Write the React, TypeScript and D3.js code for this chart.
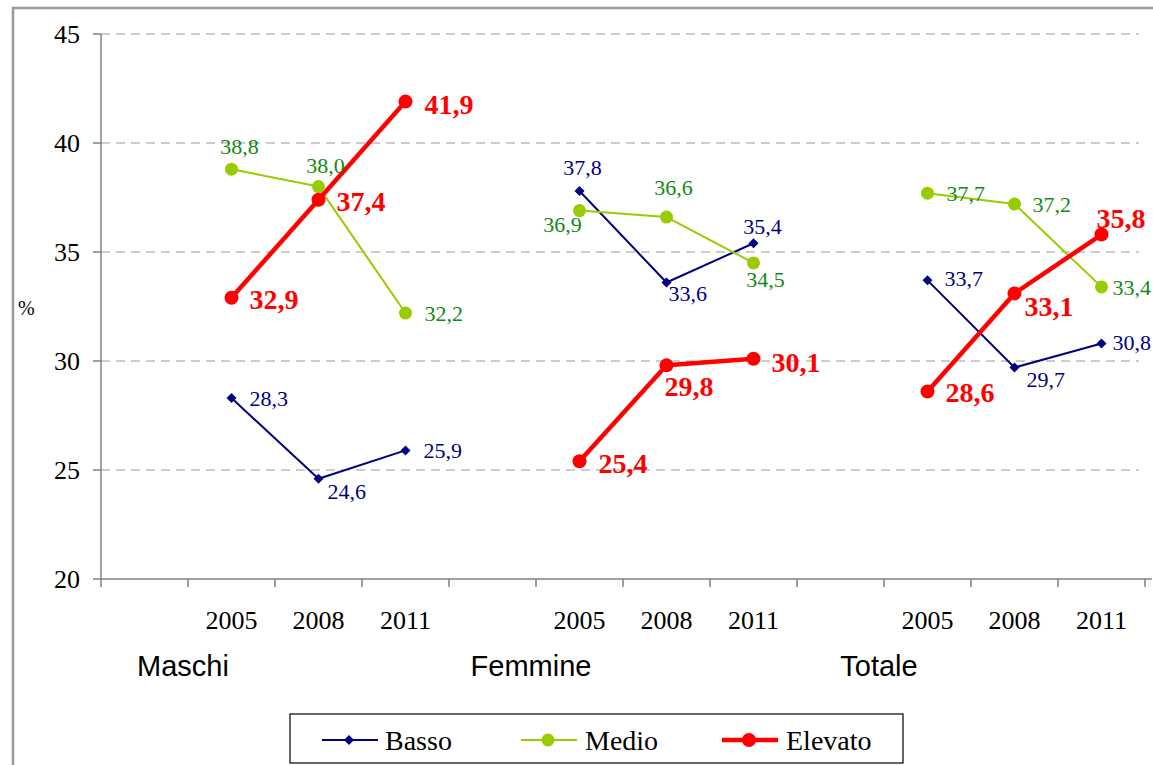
import React from 'react';
import * as d3 from 'd3';

// data
const groups = ['Maschi', 'Femmine', 'Totale'];
const years = ['2005', '2008', '2011'];
const yTicks = [20, 25, 30, 35, 40, 45];

const basso = [28.3, 24.6, 25.9, 37.8, 33.6, 35.4, 33.7, 29.7, 30.8];
const medio = [38.8, 38.0, 32.2, 36.9, 36.6, 34.5, 37.7, 37.2, 33.4];
const elevato = [32.9, 37.4, 41.9, 25.4, 29.8, 30.1, 28.6, 33.1, 35.8];

// label placement [dx, dy, anchor] for each point
const bassoLabelPos = [
  [18, 0, 'start'], [9, 13, 'start'], [18, 0, 'start'],
  [3, -24, 'middle'], [2, 11, 'start'], [9, -17, 'middle'],
  [17, -2, 'start'], [12, 12, 'start'], [11, -1, 'start'],
];
const medioLabelPos = [
  [8, -23, 'middle'], [7, -21, 'middle'], [19, 0, 'start'],
  [-17, 14, 'middle'], [7, -30, 'middle'], [12, 16, 'middle'],
  [19, 0, 'start'], [18, 0, 'start'], [11, 0, 'start'],
];
const elevatoLabelPos = [
  [18, 1, 'start'], [18, 2, 'start'], [19, 3, 'start'],
  [19, 2, 'start'], [-2, 21, 'start'], [18, 3, 'start'],
  [18, 1, 'start'], [10, 13, 'start'], [-5, -16, 'start'],
];

const W = 1153;
const H = 765;
const SERIF = '"Liberation Serif", "Times New Roman", serif';
const SANS = '"Liberation Sans", Arial, sans-serif';

const series = [
  { name: 'Basso', values: basso, pos: bassoLabelPos, line: '#000080', text: '#000080', width: 2, marker: 'diamond', r: 5, bold: false },
  { name: 'Medio', values: medio, pos: medioLabelPos, line: '#99CC00', text: '#118A11', width: 2, marker: 'circle', r: 6.5, bold: false },
  { name: 'Elevato', values: elevato, pos: elevatoLabelPos, line: '#FF0000', text: '#FF0000', width: 4.5, marker: 'circle', r: 7, bold: true },
];

const fmt = (v: number) => v.toFixed(1).replace('.', ',');

export default function App() {
  const keys: string[] = [];
  groups.forEach((g) => {
    keys.push(g + '-gap');
    years.forEach((y) => keys.push(g + '-' + y));
  });

  const x = d3.scaleBand<string>().domain(keys).range([101, 1145]).padding(0);
  const y = d3.scaleLinear().domain([20, 45]).range([579, 34]);
  const bw = x.bandwidth();

  const px = (i: number) => {
    const g = groups[Math.floor(i / years.length)];
    const yr = years[i % years.length];
    return (x(g + '-' + yr) as number) + bw / 2;
  };

  const line = d3.line<number>().x((d) => d[0]).y((d) => d[1]);

  const tickXs = keys.map((k) => x(k) as number).concat([x.range()[1]]);

  const marker = (s: any, cx: number, cy: number, key: string) =>
    s.marker === 'diamond' ? (
      <path key={key} d={`M${cx},${cy - s.r}L${cx + s.r},${cy}L${cx},${cy + s.r}L${cx - s.r},${cy}Z`} fill={s.line} />
    ) : (
      <circle key={key} cx={cx} cy={cy} r={s.r} fill={s.line} />
    );

  const legendItems = [
    { s: series[0], x0: 322, tx: 385 },
    { s: series[1], x0: 521, tx: 585 },
    { s: series[2], x0: 722, tx: 786 },
  ];

  return (
    <svg width={W} height={H} style={{ position: 'absolute', left: 0, top: 0, background: '#fff' }}>
      <rect x={13} y={8} width={W} height={H} fill="#fff" stroke="#999" strokeWidth={2.5} />

      {/* gridlines */}
      {yTicks.filter((t) => t > 20).map((t) => (
        <line key={t} x1={101} x2={1139} y1={y(t)} y2={y(t)} stroke="#999" strokeWidth={1.2} strokeDasharray="9,6" />
      ))}

      {/* y axis */}
      <line x1={101} x2={101} y1={y(45)} y2={y(20)} stroke="#808080" strokeWidth={1.5} />
      {yTicks.map((t) => (
        <g key={t}>
          <line x1={93} x2={101} y1={y(t)} y2={y(t)} stroke="#808080" strokeWidth={1.5} />
          <text x={80} y={y(t)} dy="0.35em" textAnchor="end" fontFamily={SERIF} fontSize={26}>{t}</text>
        </g>
      ))}
      <text x={18} y={308} dy="0.35em" fontFamily={SERIF} fontSize={20}>%</text>

      {/* x axis */}
      <line x1={101} x2={1152} y1={y(20)} y2={y(20)} stroke="#808080" strokeWidth={1.5} />
      {tickXs.map((tx, i) => (
        <line key={i} x1={tx} x2={tx} y1={y(20)} y2={y(20) + 8} stroke="#808080" strokeWidth={1.5} />
      ))}
      {groups.map((g) =>
        years.map((yr) => (
          <text key={g + yr} x={(x(g + '-' + yr) as number) + bw / 2} y={620} dy="0.35em" textAnchor="middle" fontFamily={SERIF} fontSize={26}>{yr}</text>
        ))
      )}
      {groups.map((g) => (
        <text key={g} x={(x(g + '-gap') as number) + bw - 5} y={666} dy="0.35em" textAnchor="middle" fontFamily={SANS} fontSize={29}>{g}</text>
      ))}

      {/* series */}
      {series.map((s) => (
        <g key={s.name}>
          {groups.map((g, gi) => {
            const pts = years.map((_, yi) => {
              const i = gi * years.length + yi;
              return [px(i), y(s.values[i])] as [number, number];
            });
            return <path key={g} d={line(pts as any) || ''} fill="none" stroke={s.line} strokeWidth={s.width} strokeLinejoin="round" />;
          })}
        </g>
      ))}
      {series.map((s) => (
        <g key={s.name + 'm'}>
          {s.values.map((v, i) => marker(s, px(i), y(v), s.name + i))}
        </g>
      ))}
      {series.map((s) => (
        <g key={s.name + 'l'}>
          {s.values.map((v, i) => {
            const [dx, dy, anchor] = s.pos[i] as [number, number, string];
            return (
              <text key={i} x={px(i) + dx} y={y(v) + dy} dy="0.35em" textAnchor={anchor as any}
                fontFamily={SERIF} fontSize={s.bold ? 28 : 22} fontWeight={s.bold ? 'bold' : 'normal'} fill={s.text}>
                {fmt(v)}
              </text>
            );
          })}
        </g>
      ))}

      {/* legend */}
      <rect x={290} y={714} width={613} height={49} fill="#fff" stroke="#000" strokeWidth={1.2} />
      {legendItems.map(({ s, x0, tx }) => (
        <g key={s.name}>
          <line x1={x0} x2={x0 + 56} y1={740} y2={740} stroke={s.line} strokeWidth={s.width} />
          {marker(s, x0 + 27, 740, 'lm')}
          <text x={tx} y={740} dy="0.35em" fontFamily={SERIF} fontSize={28}>{s.name}</text>
        </g>
      ))}
    </svg>
  );
}
